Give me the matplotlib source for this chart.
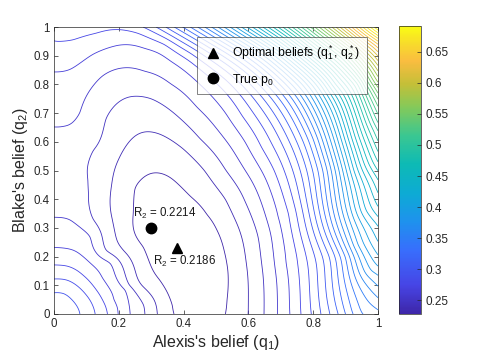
import numpy as np
import matplotlib
matplotlib.use("Agg")
import matplotlib.pyplot as plt
from matplotlib.colors import LinearSegmentedColormap, Normalize
from matplotlib.colorbar import ColorbarBase

plt.rcParams["font.family"] = ["Liberation Sans", "DejaVu Sans"]
plt.rcParams["mathtext.fontset"] = "custom"
plt.rcParams["mathtext.rm"] = "Liberation Sans"
plt.rcParams["mathtext.it"] = "Liberation Sans:italic"

# risk values shown on the chart
r2_opt = 0.2186
r2_true = 0.2214
r2_top = 0.7008
n_levels = 50
levels = np.linspace(r2_opt, r2_top, n_levels + 2)[1:-1]

q_opt = (0.38, 0.23)
p_true = (0.30, 0.30)

# contour lines: (level number, q1 values, q2 values)
basin_lines = [
    (1, [0.373, 0.370, 0.327, 0.276, 0.245, 0.250, 0.300, 0.360, 0.420, 0.470, 0.502, 0.525, 0.537, 0.533, 0.528],
        [0.000, 0.030, 0.118, 0.234, 0.351, 0.440, 0.490, 0.475, 0.409, 0.345, 0.293, 0.220, 0.150, 0.050, 0.000]),
    (2, [0.318, 0.315, 0.270, 0.215, 0.180, 0.173, 0.178, 0.200, 0.240, 0.285, 0.330, 0.400, 0.465, 0.530, 0.570, 0.593, 0.600, 0.600],
        [0.000, 0.030, 0.100, 0.220, 0.330, 0.400, 0.450, 0.540, 0.610, 0.635, 0.625, 0.575, 0.500, 0.400, 0.300, 0.180, 0.080, 0.000]),
    (3, [0.281, 0.278, 0.230, 0.160, 0.120, 0.107, 0.105, 0.120, 0.160, 0.235, 0.300, 0.370, 0.450, 0.530, 0.590, 0.630, 0.645, 0.648],
        [0.000, 0.030, 0.100, 0.220, 0.330, 0.420, 0.467, 0.570, 0.680, 0.757, 0.750, 0.700, 0.610, 0.500, 0.390, 0.270, 0.140, 0.000]),
    (4, [0.000, 0.030, 0.080, 0.111, 0.150, 0.210, 0.280, 0.360, 0.440, 0.520, 0.590, 0.645, 0.675, 0.688, 0.690],
        [0.652, 0.655, 0.700, 0.780, 0.830, 0.857, 0.845, 0.800, 0.720, 0.620, 0.500, 0.370, 0.230, 0.100, 0.000]),
    (5, [0.000, 0.050, 0.120, 0.200, 0.280, 0.360, 0.450, 0.530, 0.590, 0.640, 0.690, 0.715, 0.726, 0.728],
        [0.844, 0.852, 0.905, 0.937, 0.925, 0.880, 0.800, 0.700, 0.600, 0.500, 0.340, 0.180, 0.060, 0.000]),
    (6, [0.000, 0.060, 0.130, 0.190, 0.260, 0.340, 0.420, 0.505, 0.580, 0.640, 0.680, 0.725, 0.750, 0.760, 0.762],
        [0.949, 0.955, 0.978, 0.986, 0.978, 0.940, 0.880, 0.800, 0.690, 0.580, 0.500, 0.350, 0.200, 0.070, 0.000]),
]

corner_lines = [
    (4, [0.000, 0.049, 0.111, 0.173, 0.219, 0.232, 0.235], [0.337, 0.328, 0.269, 0.177, 0.084, 0.030, 0.000]),
    (5, [0.000, 0.040, 0.100, 0.150, 0.185, 0.196, 0.198], [0.232, 0.228, 0.190, 0.125, 0.050, 0.020, 0.000]),
    (6, [0.000, 0.040, 0.090, 0.130, 0.158, 0.165], [0.171, 0.167, 0.135, 0.085, 0.030, 0.000]),
    (7, [0.000, 0.040, 0.080, 0.110, 0.124, 0.127], [0.122, 0.118, 0.090, 0.050, 0.015, 0.000]),
    (8, [0.000, 0.030, 0.055, 0.072, 0.080], [0.074, 0.071, 0.050, 0.025, 0.000]),
]

slope_lines = [
    (7, [0.275, 0.420, 0.545, 0.660, 0.710, 0.778, 0.794],
        [1.000, 0.910, 0.800, 0.620, 0.500, 0.200, 0.000]),
    (10, [0.370, 0.520, 0.632, 0.745, 0.780, 0.850, 0.878],
         [1.000, 0.900, 0.800, 0.610, 0.500, 0.200, 0.000]),
    (13, [0.443, 0.590, 0.697, 0.800, 0.830, 0.900, 0.947],
         [1.000, 0.900, 0.800, 0.610, 0.500, 0.200, 0.000]),
    (17, [0.525, 0.665, 0.766, 0.852, 0.880, 0.937, 0.975, 1.000],
         [1.000, 0.900, 0.800, 0.610, 0.500, 0.240, 0.150, 0.140]),
    (21, [0.595, 0.725, 0.822, 0.897, 0.925, 0.962, 1.000],
         [1.000, 0.900, 0.800, 0.610, 0.500, 0.360, 0.310]),
    (25, [0.660, 0.780, 0.868, 0.940, 0.972, 1.000],
         [1.000, 0.900, 0.800, 0.620, 0.520, 0.470]),
    (30, [0.735, 0.850, 0.940, 0.985, 1.000],
         [1.000, 0.900, 0.800, 0.670, 0.640]),
    (35, [0.805, 0.905, 0.975, 1.000],
         [1.000, 0.915, 0.810, 0.770]),
    (40, [0.870, 0.955, 1.000], [1.000, 0.920, 0.866]),
    (45, [0.930, 0.985, 1.000], [1.000, 0.952, 0.942]),
]

# single readings between the lines
spot_q1 = [0.38, 0.30, 0.45, 0.44, 0.33, 0.40, 0.00, 0.00, 0.05, 0.10, 0.00, 0.19, 1.00, 1.00]
spot_q2 = [0.23, 0.30, 0.10, 0.32, 0.40, 0.02, 0.00, 0.50, 0.48, 0.60, 1.00, 1.00, 1.00, 0.00]
spot_r2 = [0.2186, 0.2214, 0.2205, 0.2225, 0.2245, 0.2212, 0.2990, 0.2510, 0.2500, 0.2520,
           0.2775, 0.2765, 0.7008, 0.3480]

# collect samples; the looser the fit, the smoother the lines
xs, ys, zs = list(spot_q1), list(spot_q2), list(spot_r2)
lam = [3e-5] * len(spot_q1)
for group, loose in ((basin_lines, 4e-4), (corner_lines, 5e-5), (slope_lines, 1e-3)):
    for k, lx, ly in group:
        xs += lx
        ys += ly
        zs += [levels[k - 1]] * len(lx)
        # the right-hand flanks of the basin are read less precisely
        lam += [1.2e-3 if (group is basin_lines and x > 0.35) else loose for x in lx]
xs, ys, zs = np.array(xs), np.array(ys), np.array(zs)

# smoothing thin plate spline surface through the readings
def tps_kernel(r):
    with np.errstate(divide="ignore", invalid="ignore"):
        out = r ** 2 * np.log(r)
    return np.nan_to_num(out)

n = len(xs)
dist = np.hypot(xs[:, None] - xs[None, :], ys[:, None] - ys[None, :])
K = tps_kernel(dist) + np.diag(lam)
A = np.column_stack([np.ones(n), xs, ys])
M = np.block([[K, A], [A.T, np.zeros((3, 3))]])
sol = np.linalg.solve(M, np.concatenate([zs, np.zeros(3)]))
w, coef = sol[:n], sol[n:]

g = np.linspace(0, 1, 201)
G1, G2 = np.meshgrid(g, g)
gd = np.hypot(G1.ravel()[:, None] - xs[None, :], G2.ravel()[:, None] - ys[None, :])
R2 = (tps_kernel(gd) @ w + coef[0] + coef[1] * G1.ravel() + coef[2] * G2.ravel()).reshape(G1.shape)

# parula-like colormap
parula = LinearSegmentedColormap.from_list("parula", [
    (0.00, (0.2422, 0.1504, 0.6603)),
    (0.10, (0.2760, 0.2700, 0.9000)),
    (0.22, (0.2200, 0.4300, 0.9900)),
    (0.32, (0.1200, 0.5700, 0.9300)),
    (0.42, (0.0500, 0.6700, 0.8300)),
    (0.52, (0.0500, 0.7300, 0.7100)),
    (0.62, (0.2300, 0.7800, 0.5700)),
    (0.72, (0.5200, 0.7900, 0.3500)),
    (0.80, (0.7700, 0.7500, 0.2200)),
    (0.88, (0.9800, 0.7400, 0.2500)),
    (0.94, (0.9700, 0.8600, 0.1700)),
    (1.00, (0.9769, 0.9839, 0.0805)),
])

fig = plt.figure(figsize=(4.85, 3.63), dpi=100)
ax = fig.add_axes([54 / 485, 49 / 363, 324 / 485, 287 / 363])
cax = fig.add_axes([399 / 485, 49 / 363, 22 / 485, 288 / 363])

ax.contour(G1, G2, R2, levels=levels, cmap=parula, linewidths=0.6)
ax.plot(*q_opt, "^", color="k", ms=7.5, ls="none", label=r"Optimal beliefs (q$_1^*$, q$_2^*$)")
ax.plot(*p_true, "o", color="k", ms=7.5, ls="none", label=r"True p$_0$")

ax.text(0.245, 0.352, "R$_2$ = %.4f" % r2_true, fontsize=8.3, va="center", color="0.1")
ax.text(0.305, 0.182, "R$_2$ = %.4f" % r2_opt, fontsize=8.3, va="center", color="0.1")

ax.set_xlim(0, 1)
ax.set_ylim(0, 1)
ax.set_xticks([0, 0.2, 0.4, 0.6, 0.8, 1])
ax.set_xticklabels(["0", "0.2", "0.4", "0.6", "0.8", "1"])
ax.set_yticks(np.round(np.arange(0, 1.01, 0.1), 1))
ax.set_yticklabels(["0"] + ["%.1f" % v for v in np.arange(0.1, 0.95, 0.1)] + ["1"])
ax.tick_params(direction="in", top=True, right=True, length=3, width=0.5,
               labelsize=8.3, colors="0.15", pad=3)
for s in ax.spines.values():
    s.set_linewidth(0.5)
    s.set_color("0.15")
ax.set_xlabel("Alexis's belief (q$_1$)", fontsize=11.5, color="0.15", labelpad=2)
ax.set_ylabel("Blake's belief (q$_2$)", fontsize=11.5, color="0.15", labelpad=3)

leg = ax.legend(loc="upper right", bbox_to_anchor=(0.965, 0.965), borderaxespad=0,
                fontsize=8.8, frameon=True, fancybox=False, handletextpad=0.9,
                borderpad=0.55, labelspacing=0.75, handlelength=1.4)
leg.get_frame().set_edgecolor("0.15")
leg.get_frame().set_linewidth(0.5)

cb = ColorbarBase(cax, cmap=parula, norm=Normalize(levels[0], levels[-1]))
cb.set_ticks([0.25, 0.3, 0.35, 0.4, 0.45, 0.5, 0.55, 0.6, 0.65])
cb.set_ticklabels(["0.25", "0.3", "0.35", "0.4", "0.45", "0.5", "0.55", "0.6", "0.65"])
cb.ax.tick_params(direction="in", length=3, width=0.5, labelsize=8.5, colors="0.15")
cb.outline.set_linewidth(0.5)
cb.outline.set_edgecolor("0.15")

fig.savefig("out.png", dpi=100)
